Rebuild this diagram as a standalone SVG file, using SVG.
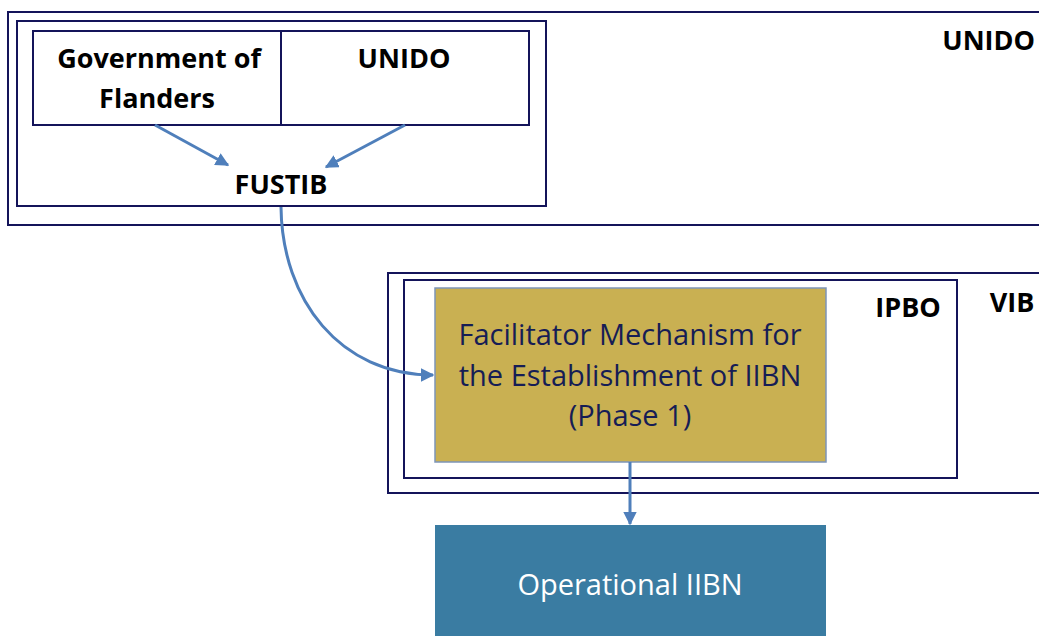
<svg xmlns="http://www.w3.org/2000/svg" width="1039" height="636" viewBox="0 0 1039 636">
<defs>
<style>
.frame{fill:none;stroke:#14145a;stroke-width:2}
.bold{font-family:"Open Sans","Liberation Sans",sans-serif;font-weight:bold;font-size:27px;fill:#000}
.reg{font-family:"Open Sans","Liberation Sans",sans-serif;font-size:29px}
.conn{fill:none;stroke:#4f7fbb;stroke-width:3}
</style>
<marker id="ah" viewBox="0 0 10 10" refX="9" refY="5" markerWidth="4.5" markerHeight="4.5" orient="auto" markerUnits="strokeWidth">
<path d="M0,0 L10,5 L0,10 z" fill="#4f7fbb"/>
</marker>
</defs>
<rect width="1039" height="636" fill="#fff"/>
<g id="unido-outer">
<rect class="frame" x="8" y="12" width="1040" height="213"/>
<text class="bold" x="1035" y="50" text-anchor="end">UNIDO</text>
</g>
<g id="fustib-box">
<rect class="frame" x="17" y="21" width="529" height="185"/>
<text class="bold" x="281" y="194" text-anchor="middle">FUSTIB</text>
</g>
<g id="gov-flanders">
<rect class="frame" x="33" y="31" width="248" height="94"/>
<text class="bold" x="159" y="68" text-anchor="middle">Government of</text>
<text class="bold" x="157" y="108" text-anchor="middle">Flanders</text>
</g>
<g id="unido-funder">
<rect class="frame" x="281" y="31" width="248" height="94"/>
<text class="bold" x="404" y="68" text-anchor="middle">UNIDO</text>
</g>
<g id="vib">
<rect class="frame" x="388" y="273" width="660" height="220"/>
<text class="bold" x="1012" y="312" text-anchor="middle">VIB</text>
</g>
<g id="ipbo">
<rect class="frame" x="404" y="280" width="553" height="198"/>
<text class="bold" x="908" y="317" text-anchor="middle">IPBO</text>
</g>
<g id="facilitator">
<rect x="435" y="288" width="391" height="174" fill="#c9b052" stroke="#7d95b8" stroke-width="1.5"/>
<text class="reg" fill="#161d55" text-anchor="middle"><tspan x="630" y="345">Facilitator Mechanism for</tspan><tspan x="630" y="386">the Establishment of IIBN</tspan><tspan x="630" y="426">(Phase 1)</tspan></text>
</g>
<g id="operational">
<rect x="435" y="525" width="391" height="120" fill="#3a7ca2"/>
<text class="reg" fill="#fff" x="630" y="595" text-anchor="middle">Operational IIBN</text>
</g>
<g id="connectors">
<path class="conn" d="M155,125 L228,165" marker-end="url(#ah)"/>
<path class="conn" d="M405,125 L326,167" marker-end="url(#ah)"/>
<path class="conn" d="M281,207 C282,300 340,375 433,375" marker-end="url(#ah)"/>
<path class="conn" d="M630,462 L630,524" marker-end="url(#ah)"/>
</g>
</svg>
